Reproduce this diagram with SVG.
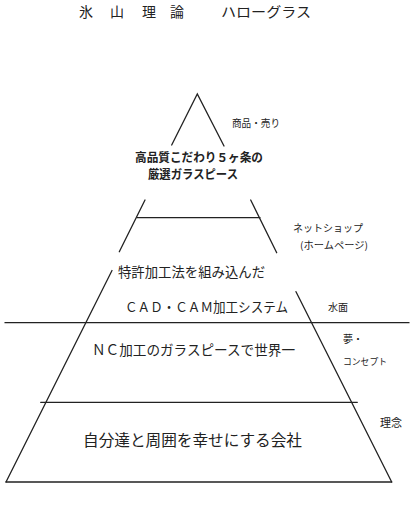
<svg xmlns="http://www.w3.org/2000/svg" width="415" height="525" viewBox="0 0 415 525">
<style>
.ln{stroke:#222;stroke-width:1.3;fill:none;stroke-linecap:round}
text{font-family:"Noto Sans CJK JP","Noto Sans CJK SC",sans-serif;fill:#222}
.lbl{font-size:10px}
.bold{font-size:12px;font-weight:bold}
.mid{font-size:14px}
</style>
<rect width="415" height="525" fill="#fff"/>
<g id="title">
<text x="79" y="17" font-size="14">氷</text>
<text x="110" y="17" font-size="14">山</text>
<text x="142" y="17" font-size="14">理</text>
<text x="170" y="17" font-size="14">論</text>
<text x="221" y="17" font-size="14" textLength="90" lengthAdjust="spacingAndGlyphs">ハローグラス</text>
</g>
<g id="connectors">
<polyline class="ln" points="171.7,145 197.3,94 224,146"/>
<line class="ln" x1="145" y1="200" x2="119.3" y2="251.7"/>
<line class="ln" x1="250.7" y1="200" x2="276.7" y2="252.7"/>
<line class="ln" x1="137.3" y1="217.7" x2="260" y2="217.7"/>
<line class="ln" x1="112" y1="270.5" x2="6" y2="482"/>
<line class="ln" x1="296" y1="291.7" x2="391.7" y2="482"/>
<line class="ln" x1="5" y1="322.7" x2="409" y2="322.7"/>
<line class="ln" x1="40.7" y1="402.3" x2="357.3" y2="402.3"/>
<line class="ln" x1="6" y1="482" x2="391.7" y2="482"/>
</g>
<g id="node-top">
<text class="lbl" x="232" y="126.5" textLength="48" lengthAdjust="spacingAndGlyphs">商品・売り</text>
<text class="bold" x="135" y="162.2" textLength="128" lengthAdjust="spacingAndGlyphs">高品質こだわり５ヶ条の</text>
<text class="bold" x="148" y="179" textLength="90" lengthAdjust="spacingAndGlyphs">厳選ガラスピース</text>
</g>
<g id="node-shop">
<text class="lbl" x="293" y="231.5" textLength="70" lengthAdjust="spacingAndGlyphs">ネットショップ</text>
<text class="lbl" x="300" y="248.5" textLength="68" lengthAdjust="spacingAndGlyphs">(ホームページ)</text>
</g>
<g id="node-cadcam">
<text class="mid" x="118" y="276.6" textLength="147" lengthAdjust="spacingAndGlyphs">特許加工法を組み込んだ</text>
<text x="125" y="311.7" font-size="13.5" textLength="163" lengthAdjust="spacingAndGlyphs">ＣＡＤ・ＣＡＭ加工システム</text>
<text class="lbl" x="328" y="310.5" textLength="20" lengthAdjust="spacingAndGlyphs">水面</text>
</g>
<g id="node-dream">
<text class="mid" x="92" y="355" textLength="203" lengthAdjust="spacingAndGlyphs">ＮＣ加工のガラスピースで世界一</text>
<text class="lbl" x="343" y="342.5">夢・</text>
<text x="343" y="365" font-size="9" textLength="44" lengthAdjust="spacingAndGlyphs">コンセプト</text>
</g>
<g id="node-philosophy">
<text x="83" y="445.5" font-size="15.5" textLength="219" lengthAdjust="spacingAndGlyphs">自分達と周囲を幸せにする会社</text>
<text x="380" y="426.5" font-size="11" textLength="22" lengthAdjust="spacingAndGlyphs">理念</text>
</g>
</svg>
